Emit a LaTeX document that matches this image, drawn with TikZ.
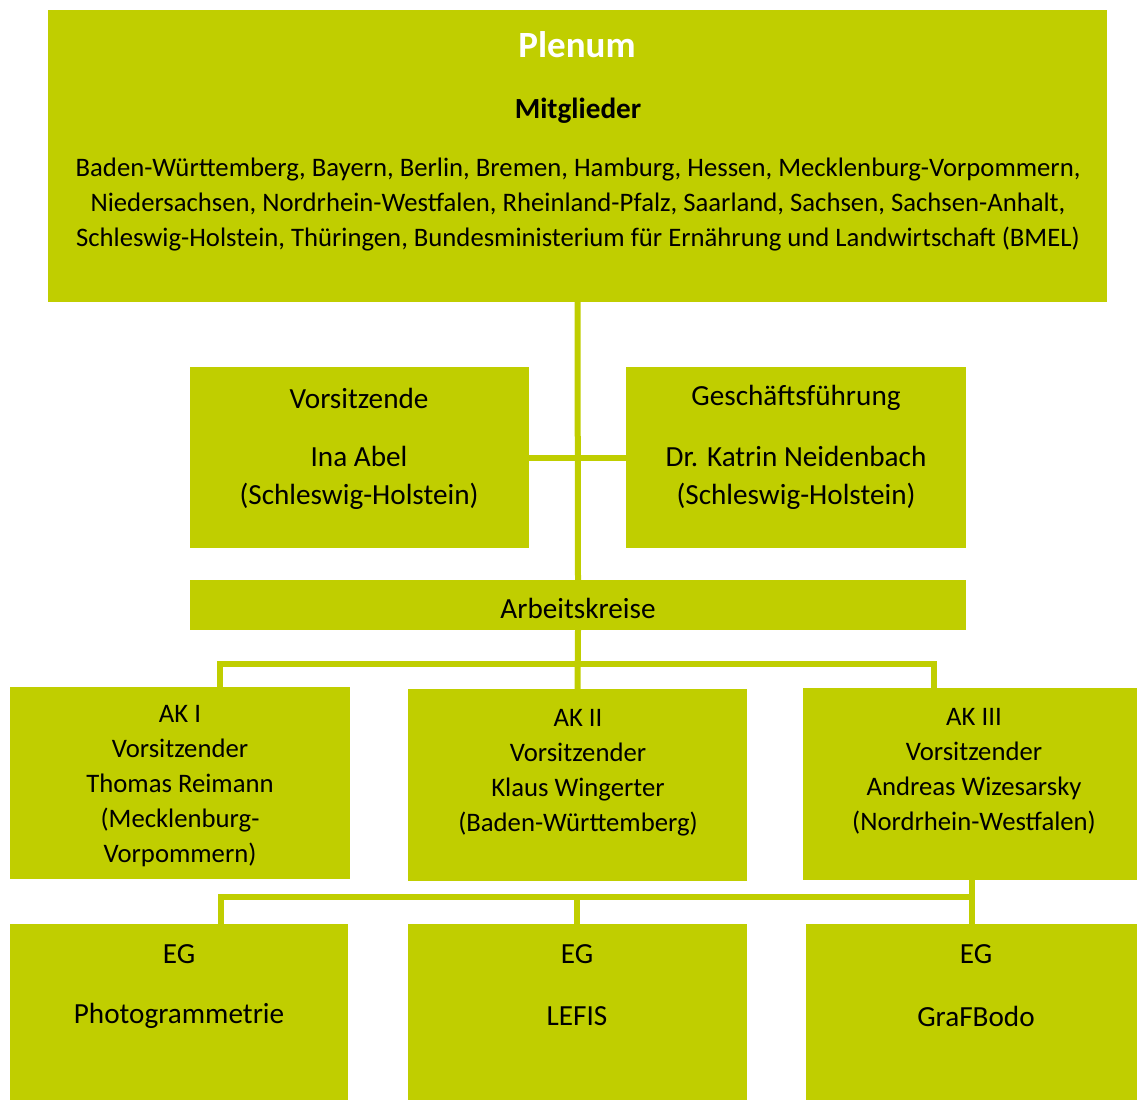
\documentclass[tikz,border=0pt]{standalone}
\usepackage{fontspec}
\setmainfont{Carlito}
\definecolor{ag}{RGB}{192,206,0}
\begin{document}
\begin{tikzpicture}[x=1pt,y=-1pt,
  box/.style={fill=ag,draw=none,inner sep=0pt,outer sep=0pt,anchor=north west},
  conn/.style={draw=ag,line width=6pt},
  txt/.style={inner sep=0pt,align=center,text=black},
  big/.style={font=\fontsize{29.2}{38}\selectfont},
  small/.style={font=\fontsize{26.7}{35}\selectfont}]
\useasboundingbox (0,0) rectangle (1137,1100);
% boxes
\node[box,minimum width=1059pt,minimum height=292pt] (plenum) at (48,10) {};
\node[box,minimum width=339pt,minimum height=181pt] (vors) at (190,367) {};
\node[box,minimum width=340pt,minimum height=181pt] (gf) at (626,367) {};
\node[box,minimum width=776pt,minimum height=50pt] (arbeit) at (190,580) {};
\node[box,minimum width=340pt,minimum height=192pt] (ak1) at (10,687) {};
\node[box,minimum width=339pt,minimum height=192pt] (ak2) at (408,689) {};
\node[box,minimum width=334pt,minimum height=192pt] (ak3) at (803,688) {};
\node[box,minimum width=338pt,minimum height=176pt] (eg1) at (10,924) {};
\node[box,minimum width=339pt,minimum height=176pt] (eg2) at (408,924) {};
\node[box,minimum width=331pt,minimum height=176pt] (eg3) at (806,924) {};
% connectors
\draw[conn] (plenum.south) -- (arbeit.north);
\draw[conn] (vors.east) -- (gf.west);
\coordinate (busA) at (576,664);
\draw[conn] (arbeit.south) -- (ak2.north);
\draw[conn] ([xshift=40pt]ak1.north) |- (busA) -| ([xshift=-36pt]ak3.north);
\coordinate (busB) at (577,897);
\draw[conn] ([xshift=2pt]ak3.south) |- (busB) -| ([xshift=42pt]eg1.north);
\draw[conn] (busB) -- ([xshift=-0.5pt]eg2.north);
\draw[conn] ([xshift=2pt]ak3.south) -- ([xshift=0.5pt]eg3.north);
% texts
\node[txt,text=white,font=\fontsize{37}{44}\bfseries\selectfont] (tPlenum) at (577,45) {Plenum};
\node[txt,font=\fontsize{29.2}{38}\bfseries\selectfont] (tMitgl) at (578,111) {Mitglieder};
\node[txt,small] (tList) at (578,205) {Baden-Württemberg, Bayern, Berlin, Bremen, Hamburg, Hessen, Mecklenburg-Vorpommern,\\Niedersachsen, Nordrhein-Westfalen, Rheinland-Pfalz, Saarland, Sachsen, Sachsen-Anhalt,\\Schleswig-Holstein, Thüringen, Bundesministerium für Ernährung und Landwirtschaft (BMEL)};
\node[txt,big] (tVors) at (359,398) {Vorsitzende};
\node[txt,big] (tAbel) at (359,478) {Ina Abel\\(Schleswig-Holstein)};
\node[txt,big] (tGf) at (796,398) {Geschäftsführung};
\node[txt,big] (tNeid) at (796,477.5) {Dr. Katrin Neidenbach\\(Schleswig-Holstein)};
\node[txt,big] (tArb) at (578,608) {Arbeitskreise};
\node[txt,small] (tAk1) at (180,786) {AK I\\Vorsitzender\\Thomas Reimann\\(Mecklenburg-\\Vorpommern)};
\node[txt,small] (tAk2) at (578,772.5) {AK II\\Vorsitzender\\Klaus Wingerter\\(Baden-Württemberg)};
\node[txt,small] (tAk3) at (974,771.5) {AK III\\Vorsitzender\\Andreas Wizesarsky\\(Nordrhein-Westfalen)};
\node[txt,big] (tEg1a) at (179,954) {EG};
\node[txt,big] (tEg1b) at (179,1016) {Photogrammetrie};
\node[txt,big] (tEg2a) at (577,954) {EG};
\node[txt,big] (tEg2b) at (577,1016) {LEFIS};
\node[txt,big] (tEg3a) at (976,954) {EG};
\node[txt,big] (tEg3b) at (976,1016) {GraFBodo};
\end{tikzpicture}
\end{document}
